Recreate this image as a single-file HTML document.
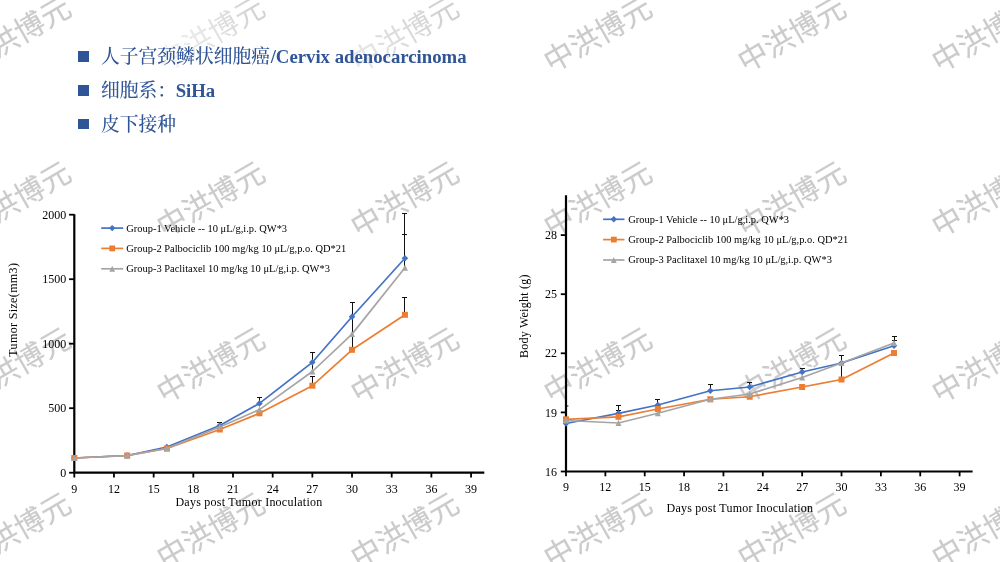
<!DOCTYPE html>
<html lang="zh"><head><meta charset="utf-8"><title>SiHa</title>
<style>
html,body{margin:0;padding:0;background:#fff}
#wml{position:absolute;left:0;top:0;width:1000px;height:562px;overflow:hidden;will-change:transform}
#slide{position:relative;width:1000px;height:562px;overflow:hidden;background:#fff;font-family:"Liberation Serif", "Noto Serif CJK SC", serif}
.hd{will-change:transform;position:absolute;left:100.6px;color:#2F5597;font-size:18.8px;font-weight:500;line-height:24px;white-space:nowrap;font-family:"Liberation Serif", "Noto Serif CJK SC", serif}
.hd b{font-weight:bold;font-size:18.75px;margin-left:0.6px;font-family:"Liberation Serif",serif}
.bl{position:absolute;left:78px;width:11px;height:10.5px;background:#2F5597}
.wm{position:absolute;width:0;height:0;white-space:nowrap;font-family:"Liberation Sans","Noto Sans CJK SC",sans-serif;font-size:29.7px;font-weight:400;color:#cbcbcb;-webkit-text-stroke:0.15px #cbcbcb;}
.wm .f1{color:transparent;background:linear-gradient(90deg,#f3f3f3 8%,#d3d3d3 92%);-webkit-background-clip:text;background-clip:text;-webkit-text-stroke:0}
.wm .f2{color:transparent;background:linear-gradient(90deg,#e6e6e6 8%,#d0d0d0 92%);-webkit-background-clip:text;background-clip:text;-webkit-text-stroke:0}
.wm{display:flex;align-items:center;justify-content:center;transform:rotate(-30deg);line-height:1}
</style></head><body>
<div id="slide">
<div id="wml">
<div class="wm" style="left:17.0px;top:34.6px"><span class="t">中洪博元</span></div>
<div class="wm" style="left:210.8px;top:34.6px"><span class="t f1">中洪博元</span></div>
<div class="wm" style="left:404.5px;top:34.6px"><span class="t f2">中洪博元</span></div>
<div class="wm" style="left:598.2px;top:34.6px"><span class="t">中洪博元</span></div>
<div class="wm" style="left:792.0px;top:34.6px"><span class="t">中洪博元</span></div>
<div class="wm" style="left:985.8px;top:34.6px"><span class="t">中洪博元</span></div>
<div class="wm" style="left:17.0px;top:200.2px"><span class="t">中洪博元</span></div>
<div class="wm" style="left:210.8px;top:200.2px"><span class="t">中洪博元</span></div>
<div class="wm" style="left:404.5px;top:200.2px"><span class="t">中洪博元</span></div>
<div class="wm" style="left:598.2px;top:200.2px"><span class="t">中洪博元</span></div>
<div class="wm" style="left:792.0px;top:200.2px"><span class="t">中洪博元</span></div>
<div class="wm" style="left:985.8px;top:200.2px"><span class="t">中洪博元</span></div>
<div class="wm" style="left:17.0px;top:365.8px"><span class="t">中洪博元</span></div>
<div class="wm" style="left:210.8px;top:365.8px"><span class="t">中洪博元</span></div>
<div class="wm" style="left:404.5px;top:365.8px"><span class="t">中洪博元</span></div>
<div class="wm" style="left:598.2px;top:365.8px"><span class="t">中洪博元</span></div>
<div class="wm" style="left:792.0px;top:365.8px"><span class="t">中洪博元</span></div>
<div class="wm" style="left:985.8px;top:365.8px"><span class="t">中洪博元</span></div>
<div class="wm" style="left:17.0px;top:531.4px"><span class="t">中洪博元</span></div>
<div class="wm" style="left:210.8px;top:531.4px"><span class="t">中洪博元</span></div>
<div class="wm" style="left:404.5px;top:531.4px"><span class="t">中洪博元</span></div>
<div class="wm" style="left:598.2px;top:531.4px"><span class="t">中洪博元</span></div>
<div class="wm" style="left:792.0px;top:531.4px"><span class="t">中洪博元</span></div>
<div class="wm" style="left:985.8px;top:531.4px"><span class="t">中洪博元</span></div>
</div>
<div class="bl" style="top:51.2px"></div><div class="hd" style="top:45px">人子宫颈鳞状细胞癌<b>/Cervix adenocarcinoma</b></div>
<div class="bl" style="top:85.4px"></div><div class="hd" style="top:79.2px">细胞系：<b style="margin-left:-0.5px">SiHa</b></div>
<div class="bl" style="top:118.6px"></div><div class="hd" style="top:112.9px">皮下接种</div>
<svg width="1000" height="562" viewBox="0 0 1000 562" style="position:absolute;left:0;top:0;will-change:transform">
<style>text{font-family:"Liberation Serif","Noto Serif CJK SC",serif;fill:#000}.tk{font-size:12px}.lg{font-size:10.45px}.ax{font-size:12px}</style>
<path d="M219.5 425.50V422.5M217.0 422.5H222.0" stroke="#111" stroke-width="1" fill="none"/>
<path d="M259.5 403.40V397.5M257.0 397.5H262.0" stroke="#111" stroke-width="1" fill="none"/>
<path d="M259.5 413.30V409.5M259.5 409.5H259.5" stroke="#111" stroke-width="1" fill="none"/>
<path d="M312.5 362.30V352.5M310.0 352.5H315.0" stroke="#111" stroke-width="1" fill="none"/>
<path d="M312.5 371.50V362.5M312.5 362.5H312.5" stroke="#111" stroke-width="1" fill="none"/>
<path d="M312.5 385.70V376.5M310.0 376.5H315.0" stroke="#111" stroke-width="1" fill="none"/>
<path d="M352.5 349.80V302.5M350.0 302.5H355.0" stroke="#111" stroke-width="1" fill="none"/>
<path d="M404.5 258.30V213.5M402.0 213.5H407.0" stroke="#111" stroke-width="1" fill="none"/>
<path d="M404.5 267.70V234.5M402.0 234.5H407.0" stroke="#111" stroke-width="1" fill="none"/>
<path d="M404.5 314.80V297.5M402.0 297.5H407.0" stroke="#111" stroke-width="1" fill="none"/>
<path d="M74.3 214.2V473.8M73.2 472.7H484.3" stroke="#000" stroke-width="2.2" fill="none"/>
<polyline fill="none" stroke="#4472C4" stroke-width="1.7" stroke-linejoin="round" points="74.30,458.00 127.20,455.50 166.88,447.00 219.77,425.50 259.45,403.40 312.35,362.30 352.02,316.70 404.93,258.30"/>
<polygon points="74.30,454.70 77.60,458.00 74.30,461.30 71.00,458.00" fill="#4472C4"/>
<polygon points="127.20,452.20 130.50,455.50 127.20,458.80 123.90,455.50" fill="#4472C4"/>
<polygon points="166.88,443.70 170.18,447.00 166.88,450.30 163.57,447.00" fill="#4472C4"/>
<polygon points="219.77,422.20 223.07,425.50 219.77,428.80 216.47,425.50" fill="#4472C4"/>
<polygon points="259.45,400.10 262.75,403.40 259.45,406.70 256.15,403.40" fill="#4472C4"/>
<polygon points="312.35,359.00 315.65,362.30 312.35,365.60 309.05,362.30" fill="#4472C4"/>
<polygon points="352.02,313.40 355.32,316.70 352.02,320.00 348.72,316.70" fill="#4472C4"/>
<polygon points="404.93,255.00 408.23,258.30 404.93,261.60 401.62,258.30" fill="#4472C4"/>
<polyline fill="none" stroke="#ED7D31" stroke-width="1.7" stroke-linejoin="round" points="74.30,458.00 127.20,455.50 166.88,448.50 219.77,429.50 259.45,413.30 312.35,385.70 352.02,349.80 404.93,314.80"/>
<rect x="71.30" y="455.00" width="6.00" height="6.00" fill="#ED7D31"/>
<rect x="124.20" y="452.50" width="6.00" height="6.00" fill="#ED7D31"/>
<rect x="163.88" y="445.50" width="6.00" height="6.00" fill="#ED7D31"/>
<rect x="216.77" y="426.50" width="6.00" height="6.00" fill="#ED7D31"/>
<rect x="256.45" y="410.30" width="6.00" height="6.00" fill="#ED7D31"/>
<rect x="309.35" y="382.70" width="6.00" height="6.00" fill="#ED7D31"/>
<rect x="349.02" y="346.80" width="6.00" height="6.00" fill="#ED7D31"/>
<rect x="401.93" y="311.80" width="6.00" height="6.00" fill="#ED7D31"/>
<polyline fill="none" stroke="#A5A5A5" stroke-width="1.7" stroke-linejoin="round" points="74.30,458.00 127.20,455.70 166.88,448.50 219.77,427.00 259.45,409.60 312.35,371.50 352.02,334.10 404.93,267.70"/>
<polygon points="74.30,454.80 77.30,461.00 71.30,461.00" fill="#A5A5A5"/>
<polygon points="127.20,452.50 130.20,458.70 124.20,458.70" fill="#A5A5A5"/>
<polygon points="166.88,445.30 169.88,451.50 163.88,451.50" fill="#A5A5A5"/>
<polygon points="219.77,423.80 222.77,430.00 216.77,430.00" fill="#A5A5A5"/>
<polygon points="259.45,406.40 262.45,412.60 256.45,412.60" fill="#A5A5A5"/>
<polygon points="312.35,368.30 315.35,374.50 309.35,374.50" fill="#A5A5A5"/>
<polygon points="352.02,330.90 355.02,337.10 349.02,337.10" fill="#A5A5A5"/>
<polygon points="404.93,264.50 407.93,270.70 401.93,270.70" fill="#A5A5A5"/>
<line x1="69.1" y1="472.70" x2="74.3" y2="472.70" stroke="#000" stroke-width="1.8"/>
<text x="66.3" y="476.80" text-anchor="end" class="tk">0</text>
<line x1="69.1" y1="408.20" x2="74.3" y2="408.20" stroke="#000" stroke-width="1.8"/>
<text x="66.3" y="412.30" text-anchor="end" class="tk">500</text>
<line x1="69.1" y1="343.70" x2="74.3" y2="343.70" stroke="#000" stroke-width="1.8"/>
<text x="66.3" y="347.80" text-anchor="end" class="tk">1000</text>
<line x1="69.1" y1="279.20" x2="74.3" y2="279.20" stroke="#000" stroke-width="1.8"/>
<text x="66.3" y="283.30" text-anchor="end" class="tk">1500</text>
<line x1="69.1" y1="214.70" x2="74.3" y2="214.70" stroke="#000" stroke-width="1.8"/>
<text x="66.3" y="218.80" text-anchor="end" class="tk">2000</text>
<line x1="74.30" y1="472.7" x2="74.30" y2="477.5" stroke="#000" stroke-width="1.8"/>
<text x="74.30" y="492.7" text-anchor="middle" class="tk">9</text>
<line x1="113.97" y1="472.7" x2="113.97" y2="477.5" stroke="#000" stroke-width="1.8"/>
<text x="113.97" y="492.7" text-anchor="middle" class="tk">12</text>
<line x1="153.65" y1="472.7" x2="153.65" y2="477.5" stroke="#000" stroke-width="1.8"/>
<text x="153.65" y="492.7" text-anchor="middle" class="tk">15</text>
<line x1="193.32" y1="472.7" x2="193.32" y2="477.5" stroke="#000" stroke-width="1.8"/>
<text x="193.32" y="492.7" text-anchor="middle" class="tk">18</text>
<line x1="233.00" y1="472.7" x2="233.00" y2="477.5" stroke="#000" stroke-width="1.8"/>
<text x="233.00" y="492.7" text-anchor="middle" class="tk">21</text>
<line x1="272.68" y1="472.7" x2="272.68" y2="477.5" stroke="#000" stroke-width="1.8"/>
<text x="272.68" y="492.7" text-anchor="middle" class="tk">24</text>
<line x1="312.35" y1="472.7" x2="312.35" y2="477.5" stroke="#000" stroke-width="1.8"/>
<text x="312.35" y="492.7" text-anchor="middle" class="tk">27</text>
<line x1="352.02" y1="472.7" x2="352.02" y2="477.5" stroke="#000" stroke-width="1.8"/>
<text x="352.02" y="492.7" text-anchor="middle" class="tk">30</text>
<line x1="391.70" y1="472.7" x2="391.70" y2="477.5" stroke="#000" stroke-width="1.8"/>
<text x="391.70" y="492.7" text-anchor="middle" class="tk">33</text>
<line x1="431.38" y1="472.7" x2="431.38" y2="477.5" stroke="#000" stroke-width="1.8"/>
<text x="431.38" y="492.7" text-anchor="middle" class="tk">36</text>
<line x1="471.05" y1="472.7" x2="471.05" y2="477.5" stroke="#000" stroke-width="1.8"/>
<text x="471.05" y="492.7" text-anchor="middle" class="tk">39</text>
<text x="175.4" y="506.2" textLength="146.9" class="ax">Days post Tumor Inoculation</text>
<text transform="translate(17.2,356.7) rotate(-90)" textLength="93.6" class="ax">Tumor Size(mm3)</text>
<line x1="101.2" y1="228.1" x2="123.2" y2="228.1" stroke="#4472C4" stroke-width="1.7"/>
<polygon points="112.20,224.90 115.40,228.10 112.20,231.30 109.00,228.10" fill="#4472C4"/>
<text x="126.3" y="231.50" class="lg">Group-1 Vehicle -- 10 μL/g,i.p. QW*3</text>
<line x1="101.2" y1="248.4" x2="123.2" y2="248.4" stroke="#ED7D31" stroke-width="1.7"/>
<rect x="109.30" y="245.50" width="5.80" height="5.80" fill="#ED7D31"/>
<text x="126.3" y="251.80" class="lg">Group-2 Palbociclib 100 mg/kg 10 μL/g,p.o. QD*21</text>
<line x1="101.2" y1="268.8" x2="123.2" y2="268.8" stroke="#A5A5A5" stroke-width="1.7"/>
<polygon points="112.20,265.70 115.10,271.70 109.30,271.70" fill="#A5A5A5"/>
<text x="126.3" y="272.20" class="lg">Group-3 Paclitaxel 10 mg/kg 10 μL/g,i.p. QW*3</text>
<path d="M566.0 406H568.4" stroke="#000" stroke-width="0.95" fill="none"/>
<path d="M618.5 413.30V410.5M616.0 410.5H621.0" stroke="#111" stroke-width="1" fill="none"/>
<path d="M618.5 413.30V405.5M616.0 405.5H621.0" stroke="#111" stroke-width="1" fill="none"/>
<path d="M657.5 405.00V399.5M655.0 399.5H660.0" stroke="#111" stroke-width="1" fill="none"/>
<path d="M710.5 390.75V384.5M708.0 384.5H713.0" stroke="#111" stroke-width="1" fill="none"/>
<path d="M749.5 387.00V382.5M747.0 382.5H752.0" stroke="#111" stroke-width="1" fill="none"/>
<path d="M802.5 372.00V368.5M800.0 368.5H805.0" stroke="#111" stroke-width="1" fill="none"/>
<path d="M841.5 379.50V355.5M839.0 355.5H844.0" stroke="#111" stroke-width="1" fill="none"/>
<path d="M894.5 345.75V336.5M892.0 336.5H897.0" stroke="#111" stroke-width="1" fill="none"/>
<path d="M894.5 345.75V340.5M892.0 340.5H897.0" stroke="#111" stroke-width="1" fill="none"/>
<path d="M566.0 195.3V472.6M564.9 471.5H972.6" stroke="#000" stroke-width="2.2" fill="none"/>
<polyline fill="none" stroke="#4472C4" stroke-width="1.7" stroke-linejoin="round" points="566.00,423.50 618.48,413.30 657.84,405.00 710.32,390.75 749.68,387.00 802.16,372.00 841.52,363.00 894.00,345.75"/>
<polygon points="566.00,420.20 569.30,423.50 566.00,426.80 562.70,423.50" fill="#4472C4"/>
<polygon points="618.48,410.00 621.78,413.30 618.48,416.60 615.18,413.30" fill="#4472C4"/>
<polygon points="657.84,401.70 661.14,405.00 657.84,408.30 654.54,405.00" fill="#4472C4"/>
<polygon points="710.32,387.45 713.62,390.75 710.32,394.05 707.02,390.75" fill="#4472C4"/>
<polygon points="749.68,383.70 752.98,387.00 749.68,390.30 746.38,387.00" fill="#4472C4"/>
<polygon points="802.16,368.70 805.46,372.00 802.16,375.30 798.86,372.00" fill="#4472C4"/>
<polygon points="841.52,359.70 844.82,363.00 841.52,366.30 838.22,363.00" fill="#4472C4"/>
<polygon points="894.00,342.45 897.30,345.75 894.00,349.05 890.70,345.75" fill="#4472C4"/>
<polyline fill="none" stroke="#ED7D31" stroke-width="1.7" stroke-linejoin="round" points="566.00,419.30 618.48,416.80 657.84,409.00 710.32,399.25 749.68,396.75 802.16,387.00 841.52,379.50 894.00,353.00"/>
<rect x="563.00" y="416.30" width="6.00" height="6.00" fill="#ED7D31"/>
<rect x="615.48" y="413.80" width="6.00" height="6.00" fill="#ED7D31"/>
<rect x="654.84" y="406.00" width="6.00" height="6.00" fill="#ED7D31"/>
<rect x="707.32" y="396.25" width="6.00" height="6.00" fill="#ED7D31"/>
<rect x="746.68" y="393.75" width="6.00" height="6.00" fill="#ED7D31"/>
<rect x="799.16" y="384.00" width="6.00" height="6.00" fill="#ED7D31"/>
<rect x="838.52" y="376.50" width="6.00" height="6.00" fill="#ED7D31"/>
<rect x="891.00" y="350.00" width="6.00" height="6.00" fill="#ED7D31"/>
<polyline fill="none" stroke="#A5A5A5" stroke-width="1.7" stroke-linejoin="round" points="566.00,420.50 618.48,423.00 657.84,413.25 710.32,399.25 749.68,394.00 802.16,377.50 841.52,363.00 894.00,343.00"/>
<polygon points="566.00,417.30 569.00,423.50 563.00,423.50" fill="#A5A5A5"/>
<polygon points="618.48,419.80 621.48,426.00 615.48,426.00" fill="#A5A5A5"/>
<polygon points="657.84,410.05 660.84,416.25 654.84,416.25" fill="#A5A5A5"/>
<polygon points="710.32,396.05 713.32,402.25 707.32,402.25" fill="#A5A5A5"/>
<polygon points="749.68,390.80 752.68,397.00 746.68,397.00" fill="#A5A5A5"/>
<polygon points="802.16,374.30 805.16,380.50 799.16,380.50" fill="#A5A5A5"/>
<polygon points="841.52,359.80 844.52,366.00 838.52,366.00" fill="#A5A5A5"/>
<polygon points="894.00,339.80 897.00,346.00 891.00,346.00" fill="#A5A5A5"/>
<line x1="560.8" y1="471.50" x2="566.0" y2="471.50" stroke="#000" stroke-width="1.8"/>
<text x="557" y="475.60" text-anchor="end" class="tk">16</text>
<line x1="560.8" y1="412.40" x2="566.0" y2="412.40" stroke="#000" stroke-width="1.8"/>
<text x="557" y="416.50" text-anchor="end" class="tk">19</text>
<line x1="560.8" y1="353.30" x2="566.0" y2="353.30" stroke="#000" stroke-width="1.8"/>
<text x="557" y="357.40" text-anchor="end" class="tk">22</text>
<line x1="560.8" y1="294.20" x2="566.0" y2="294.20" stroke="#000" stroke-width="1.8"/>
<text x="557" y="298.30" text-anchor="end" class="tk">25</text>
<line x1="560.8" y1="235.10" x2="566.0" y2="235.10" stroke="#000" stroke-width="1.8"/>
<text x="557" y="239.20" text-anchor="end" class="tk">28</text>
<line x1="566.00" y1="471.5" x2="566.00" y2="476.3" stroke="#000" stroke-width="1.8"/>
<text x="566.00" y="491.4" text-anchor="middle" class="tk">9</text>
<line x1="605.36" y1="471.5" x2="605.36" y2="476.3" stroke="#000" stroke-width="1.8"/>
<text x="605.36" y="491.4" text-anchor="middle" class="tk">12</text>
<line x1="644.72" y1="471.5" x2="644.72" y2="476.3" stroke="#000" stroke-width="1.8"/>
<text x="644.72" y="491.4" text-anchor="middle" class="tk">15</text>
<line x1="684.08" y1="471.5" x2="684.08" y2="476.3" stroke="#000" stroke-width="1.8"/>
<text x="684.08" y="491.4" text-anchor="middle" class="tk">18</text>
<line x1="723.44" y1="471.5" x2="723.44" y2="476.3" stroke="#000" stroke-width="1.8"/>
<text x="723.44" y="491.4" text-anchor="middle" class="tk">21</text>
<line x1="762.80" y1="471.5" x2="762.80" y2="476.3" stroke="#000" stroke-width="1.8"/>
<text x="762.80" y="491.4" text-anchor="middle" class="tk">24</text>
<line x1="802.16" y1="471.5" x2="802.16" y2="476.3" stroke="#000" stroke-width="1.8"/>
<text x="802.16" y="491.4" text-anchor="middle" class="tk">27</text>
<line x1="841.52" y1="471.5" x2="841.52" y2="476.3" stroke="#000" stroke-width="1.8"/>
<text x="841.52" y="491.4" text-anchor="middle" class="tk">30</text>
<line x1="880.88" y1="471.5" x2="880.88" y2="476.3" stroke="#000" stroke-width="1.8"/>
<text x="880.88" y="491.4" text-anchor="middle" class="tk">33</text>
<line x1="920.24" y1="471.5" x2="920.24" y2="476.3" stroke="#000" stroke-width="1.8"/>
<text x="920.24" y="491.4" text-anchor="middle" class="tk">36</text>
<line x1="959.60" y1="471.5" x2="959.60" y2="476.3" stroke="#000" stroke-width="1.8"/>
<text x="959.60" y="491.4" text-anchor="middle" class="tk">39</text>
<text x="666.5" y="512.1" textLength="146.6" class="ax">Days post Tumor Inoculation</text>
<text transform="translate(528.3,358.1) rotate(-90)" textLength="83.6" class="ax">Body Weight (g)</text>
<line x1="603.1" y1="219.3" x2="624.5" y2="219.3" stroke="#4472C4" stroke-width="1.7"/>
<polygon points="613.80,216.10 617.00,219.30 613.80,222.50 610.60,219.30" fill="#4472C4"/>
<text x="628.3" y="222.70" class="lg">Group-1 Vehicle -- 10 μL/g,i.p. QW*3</text>
<line x1="603.1" y1="239.6" x2="624.5" y2="239.6" stroke="#ED7D31" stroke-width="1.7"/>
<rect x="610.90" y="236.70" width="5.80" height="5.80" fill="#ED7D31"/>
<text x="628.3" y="243.00" class="lg">Group-2 Palbociclib 100 mg/kg 10 μL/g,p.o. QD*21</text>
<line x1="603.1" y1="260.0" x2="624.5" y2="260.0" stroke="#A5A5A5" stroke-width="1.7"/>
<polygon points="613.80,256.90 616.70,262.90 610.90,262.90" fill="#A5A5A5"/>
<text x="628.3" y="263.40" class="lg">Group-3 Paclitaxel 10 mg/kg 10 μL/g,i.p. QW*3</text>
</svg>
</div>
</body></html>
